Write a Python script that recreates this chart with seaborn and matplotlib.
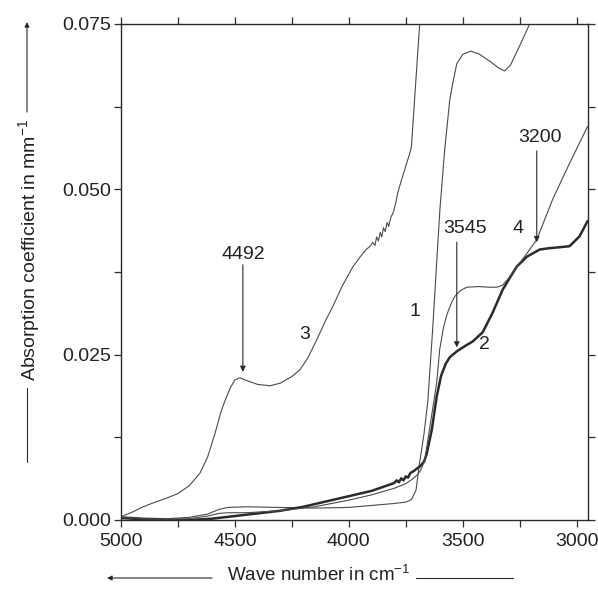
import matplotlib
matplotlib.use("Agg")
import matplotlib.pyplot as plt
import seaborn as sns
import pandas as pd
from matplotlib.ticker import MultipleLocator, FormatStrFormatter

# ---------------- data ----------------
wave1 = [5000, 4900, 4800, 4700, 4620, 4570, 4530, 4450, 4300, 4150, 4000, 3900, 3800, 3750,
         3725, 3705, 3690, 3670, 3653, 3632, 3600, 3579, 3557, 3544, 3526, 3500, 3465, 3430,
         3382, 3340, 3316, 3290, 3250, 3206, 3180]
abs1 = [0.0005, 0.0003, 0.0002, 0.0004, 0.0009, 0.0016, 0.0019, 0.0020, 0.0019, 0.0018, 0.0019,
        0.0022, 0.0025, 0.0027, 0.0031, 0.0045, 0.0085, 0.0130, 0.0180, 0.0288, 0.0470, 0.0560,
        0.0635, 0.0660, 0.0690, 0.0704, 0.0709, 0.0705, 0.0694, 0.0683, 0.0679, 0.0688, 0.0717,
        0.0750, 0.0780]

wave2 = [5000, 4900, 4800, 4700, 4600, 4500, 4400, 4300, 4200, 4100, 4000, 3900, 3850, 3800,
         3790, 3780, 3770, 3760, 3750, 3740, 3730, 3715, 3700, 3685, 3670, 3658, 3636, 3614,
         3595, 3575, 3557, 3526, 3490, 3456, 3412, 3368, 3325, 3290, 3263, 3219, 3162, 3120,
         3088, 3031, 2987, 2952]
abs2 = [0.0003, 0.0001, 0.0000, 0.0000, 0.0002, 0.0006, 0.0010, 0.0014, 0.0020, 0.0028, 0.0036,
        0.0044, 0.0050, 0.0056, 0.0060, 0.0057, 0.0063, 0.0060, 0.0066, 0.0064, 0.0071, 0.0074,
        0.0078, 0.0082, 0.0088, 0.0100, 0.0136, 0.0187, 0.0218, 0.0236, 0.0246, 0.0255, 0.0263,
        0.0270, 0.0284, 0.0314, 0.0348, 0.0368, 0.0383, 0.0398, 0.0409, 0.0411, 0.0412, 0.0414,
        0.0429, 0.0452]

wave3 = [5000, 4950, 4903, 4850, 4800, 4750, 4700, 4653, 4620, 4588, 4560, 4544, 4520, 4500,
         4478, 4450, 4400, 4346, 4300, 4250, 4215, 4180, 4140, 4100, 4070, 4030, 3982, 3950,
         3921, 3905, 3895, 3885, 3878, 3870, 3862, 3855, 3848, 3840, 3832, 3825, 3815, 3805,
         3795, 3785, 3768, 3750, 3732, 3725, 3689, 3680]
abs3 = [0.0005, 0.0012, 0.0020, 0.0027, 0.0033, 0.0040, 0.0052, 0.0071, 0.0095, 0.0130, 0.0165,
        0.0180, 0.0200, 0.0212, 0.0215, 0.0211, 0.0205, 0.0203, 0.0207, 0.0217, 0.0227, 0.0245,
        0.0273, 0.0303, 0.0323, 0.0353, 0.0383, 0.0398, 0.0410, 0.0414, 0.0420, 0.0415, 0.0428,
        0.0422, 0.0435, 0.0428, 0.0442, 0.0436, 0.0450, 0.0444, 0.0458, 0.0465, 0.0478, 0.0495,
        0.0515, 0.0535, 0.0555, 0.0565, 0.0750, 0.0775]

wave4 = [5000, 4900, 4800, 4700, 4620, 4570, 4530, 4450, 4300, 4150, 4000, 3900, 3800, 3750,
         3720, 3700, 3685, 3667, 3640, 3614, 3601, 3585, 3570, 3550, 3535, 3510, 3482, 3430,
         3382, 3350, 3325, 3300, 3263, 3220, 3175, 3105, 3030, 2952]
abs4 = [0.0004, 0.0002, 0.0001, 0.0002, 0.0006, 0.0010, 0.0011, 0.0011, 0.0014, 0.0020, 0.0030,
        0.0038, 0.0048, 0.0055, 0.0062, 0.0068, 0.0075, 0.0090, 0.0150, 0.0208, 0.0258, 0.0290,
        0.0310, 0.0328, 0.0338, 0.0347, 0.0352, 0.0353, 0.0352, 0.0352, 0.0355, 0.0365, 0.0383,
        0.0402, 0.0424, 0.0485, 0.0540, 0.0595]

curve_labels = ["1", "2", "3", "4"]
label_wave = [3711, 3404, 4193, 3259]
label_abs = [0.0315, 0.0265, 0.0280, 0.0441]

peak_labels = ["4492", "3545", "3200"]
peak_text_wave = [4465, 3491, 3162]
peak_text_abs = [0.0402, 0.0441, 0.0579]
peak_arrow_wave = [4465, 3526, 3175]
peak_arrow_from = [0.0386, 0.0420, 0.0558]
peak_arrow_to = [0.0224, 0.0261, 0.0420]

x_ticks = [5000, 4500, 4000, 3500, 3000]
y_ticks = [0.000, 0.025, 0.050, 0.075]

# ---------------- style ----------------
sns.set_style("ticks")
plt.rcParams["font.family"] = ["Liberation Sans", "DejaVu Sans"]
plt.rcParams["mathtext.fontset"] = "custom"
plt.rcParams["mathtext.rm"] = "Liberation Sans"
plt.rcParams["mathtext.it"] = "Liberation Sans"

ink = "#2a2a2a"
thin = "#4a4a4a"
txt = "#222222"

fig = plt.figure(figsize=(5.98, 5.90), dpi=100)
ax = fig.add_axes([121 / 598, 1 - 520 / 590, (588 - 121) / 598, (520 - 24) / 590])

frames = [
    pd.DataFrame({"wave": wave1, "absorption": abs1}),
    pd.DataFrame({"wave": wave2, "absorption": abs2}),
    pd.DataFrame({"wave": wave3, "absorption": abs3}),
    pd.DataFrame({"wave": wave4, "absorption": abs4}),
]
widths = [0.8, 1.8, 0.8, 0.8]
colors = [thin, ink, thin, thin]
for df, lw, c in zip(frames, widths, colors):
    sns.lineplot(data=df, x="wave", y="absorption", ax=ax, color=c, linewidth=lw,
                 sort=False, estimator=None)

ax.set_xlim(5000, 2950)
ax.set_ylim(0, 0.075)
ax.set_xticks(x_ticks)
ax.set_yticks(y_ticks)
ax.xaxis.set_minor_locator(MultipleLocator(250))
ax.yaxis.set_minor_locator(MultipleLocator(0.0125))
ax.yaxis.set_major_formatter(FormatStrFormatter("%.3f"))
ax.set_xlabel("")
ax.set_ylabel("")

for s in ax.spines.values():
    s.set_visible(True)
    s.set_color(ink)
    s.set_linewidth(1.0)
ax.tick_params(which="both", direction="out", top=True, right=True, color=ink,
               labelsize=14, labelcolor=txt, width=0.9)
ax.tick_params(which="major", length=5)
ax.tick_params(which="minor", length=5)
ax.tick_params(axis="x", which="major", pad=4)
ax.tick_params(axis="y", which="major", pad=2)

# curve numbers
for t, xw, ya in zip(curve_labels, label_wave, label_abs):
    ax.text(xw, ya, t, fontsize=14, color=txt, ha="center", va="center")

# peak annotations
for t, xt, yt, xa, y0, y1 in zip(peak_labels, peak_text_wave, peak_text_abs,
                                 peak_arrow_wave, peak_arrow_from, peak_arrow_to):
    ax.text(xt, yt, t, fontsize=14, color=txt, ha="center", va="center")
    ax.annotate("", xy=(xa, y1), xytext=(xa, y0),
                arrowprops=dict(arrowstyle="-|>", color=ink, lw=0.8,
                                mutation_scale=8, shrinkA=0, shrinkB=0))

# y-axis label with arrow lines
fig.text(29 / 598, 1 - 250 / 590, "Absorption coefficient in mm$^{-1}$", rotation=90,
         ha="center", va="center", fontsize=14, color=txt)
fig.add_artist(plt.Line2D([27 / 598, 27 / 598], [1 - 462 / 590, 1 - 388 / 590],
                          color=ink, lw=0.8, transform=fig.transFigure))
ax.annotate("", xy=(27 / 598, 1 - 22 / 590), xytext=(27 / 598, 1 - 112 / 590),
            xycoords="figure fraction", textcoords="figure fraction",
            arrowprops=dict(arrowstyle="-|>", color=ink, lw=0.8, mutation_scale=7,
                            shrinkA=0, shrinkB=0))

# x-axis label with arrow lines
fig.text(319 / 598, 1 - 575 / 590, "Wave number in cm$^{-1}$", ha="center", va="center",
         fontsize=13.5, color=txt)
ax.annotate("", xy=(107 / 598, 1 - 578 / 590), xytext=(212 / 598, 1 - 578 / 590),
            xycoords="figure fraction", textcoords="figure fraction",
            arrowprops=dict(arrowstyle="-|>", color=ink, lw=0.8, mutation_scale=7,
                            shrinkA=0, shrinkB=0))
fig.add_artist(plt.Line2D([416 / 598, 513 / 598], [1 - 578 / 590, 1 - 578 / 590],
                          color=ink, lw=0.8, transform=fig.transFigure))

fig.savefig("out.png", dpi=100)
